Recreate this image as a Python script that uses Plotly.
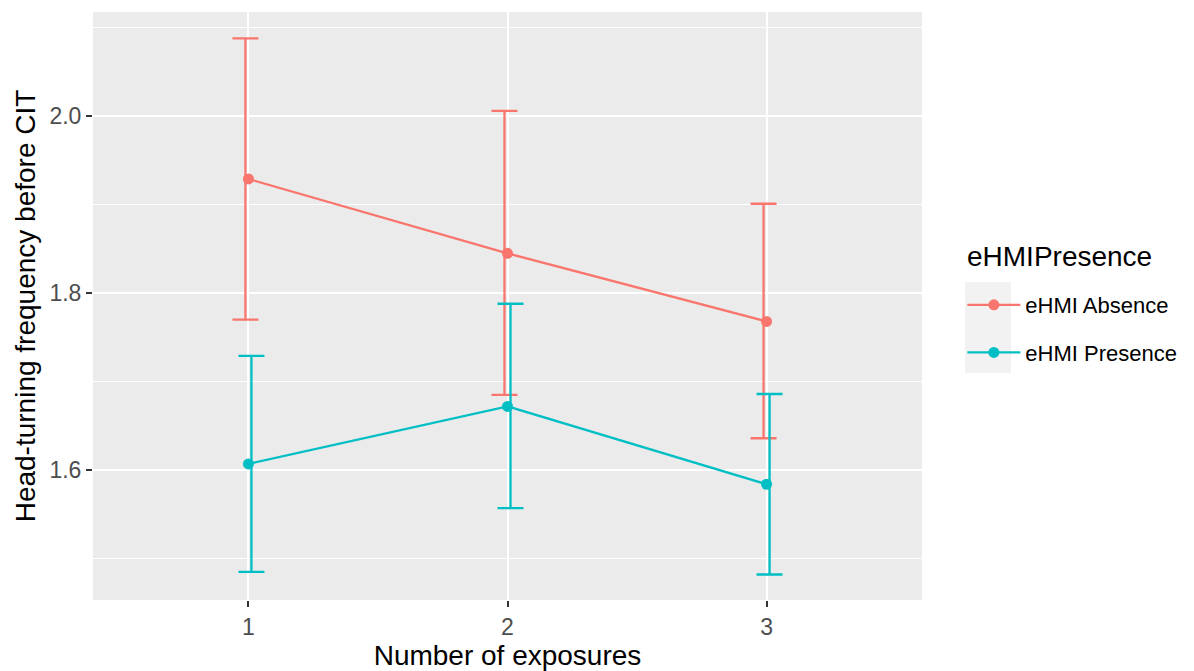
import plotly.graph_objects as go

exposures = [1, 2, 3]
tick_labels = ["1", "2", "3"]
groups = ["eHMI Absence", "eHMI Presence"]
absence_mean = [1.929, 1.845, 1.768]
absence_low = [1.770, 1.685, 1.636]
absence_high = [2.088, 2.006, 1.901]
presence_mean = [1.607, 1.672, 1.584]
presence_low = [1.485, 1.557, 1.482]
presence_high = [1.729, 1.788, 1.686]

colors = ["#F8766D", "#00BFC4"]
FONT = "Liberation Sans, Arial, Helvetica, sans-serif"
dodge = 0.0116

series = [
    (groups[0], absence_mean, absence_low, absence_high, colors[0], -dodge),
    (groups[1], presence_mean, presence_low, presence_high, colors[1], dodge),
]

fig = go.Figure()
for name, m, lo, hi, c, off in series:
    fig.add_trace(go.Scatter(
        x=[v + off for v in exposures], y=m, mode="markers",
        marker=dict(size=1, color="rgba(0,0,0,0)"),
        error_y=dict(type="data", symmetric=False,
                     array=[h - v for h, v in zip(hi, m)],
                     arrayminus=[v - l for v, l in zip(m, lo)],
                     color=c, thickness=2.3, width=13),
        showlegend=False, hoverinfo="skip"))
for i, (name, m, lo, hi, c, off) in enumerate(series):
    fig.add_trace(go.Scatter(
        x=exposures, y=m, mode="lines+markers", name=name,
        line=dict(color=c, width=2.3), marker=dict(color=c, size=11),
        legendgroup=name))

axis_common = dict(
    showgrid=True, gridcolor="white", zeroline=False, showline=False,
    ticks="outside", ticklen=6, tickwidth=2, tickcolor="#333333",
    tickfont=dict(family=FONT, size=23, color="#4D4D4D"),
    automargin=False,
)
fig.update_xaxes(
    **axis_common, range=[0.4, 3.6], tickvals=exposures, ticktext=tick_labels,
    gridwidth=2.2,
    title=dict(text="Number of exposures", font=dict(family=FONT, size=28, color="black"), standoff=4),
)
fig.update_yaxes(
    **axis_common, range=[1.4532, 2.1177], tickvals=[1.6, 1.8, 2.0],
    ticktext=["1.6", "1.8", "2.0"], gridwidth=2.2,
    minor=dict(tickvals=[1.5, 1.7, 1.9, 2.1], showgrid=True, gridcolor="white", gridwidth=1.2, ticks=""),
    title=dict(text="Head-turning frequency before CIT", font=dict(family=FONT, size=28, color="black"), standoff=5),
)

fig.add_shape(type="rect", xref="paper", yref="paper",
              x0=1.0519, x1=1.1074, y0=0.386, y1=0.541,
              fillcolor="#F2F2F2", line=dict(width=0), layer="below")

fig.add_annotation(text="eHMIPresence", xref="paper", yref="paper",
                   x=1.0519, y=(600 - 256) / 588, xanchor="left", yanchor="middle",
                   showarrow=False, font=dict(family=FONT, size=28, color="black"))

fig.update_layout(
    width=1194, height=671,
    margin=dict(l=93, r=272, t=12, b=71),
    paper_bgcolor="white", plot_bgcolor="#EBEBEB",
    font=dict(family=FONT),
    legend=dict(
        xref="container", yref="container", x=0.806, y=1 - 284 / 671,
        xanchor="left", yanchor="top",
        font=dict(family=FONT, size=22, color="black"),
        bgcolor="rgba(0,0,0,0)", tracegroupgap=16, itemwidth=53,
    ),
)

fig.write_html("out.html", config={"displayModeBar": False},
               post_script="document.body.style.margin='0';document.body.style.overflow='hidden';")
